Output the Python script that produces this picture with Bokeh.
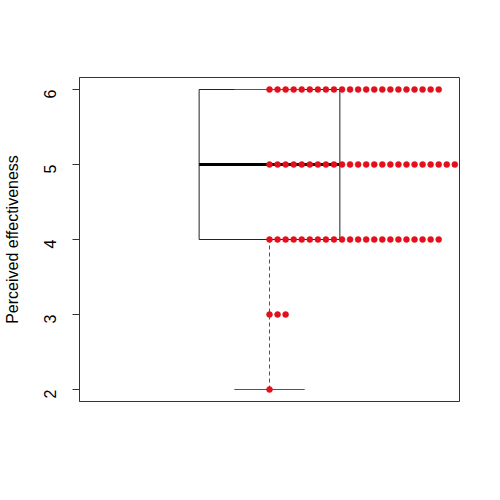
from bokeh.plotting import figure
from bokeh.models import Range1d, FixedTicker
from bokeh.embed import file_html
from bokeh.resources import INLINE
import numpy as np

# Data: perceived effectiveness ratings (value -> count)
ratings = [2, 3, 4, 5, 6]
counts = [1, 3, 22, 24, 22]
y_ticks = [2, 3, 4, 5, 6]
y_label = "Perceived effectiveness"

obs = np.repeat(ratings, counts).astype(float)
q1, med, q3 = np.percentile(obs, [25, 50, 75])
iqr = q3 - q1
lo_whisk = obs[obs >= q1 - 1.5 * iqr].min()
hi_whisk = obs[obs <= q3 + 1.5 * iqr].max()

W, H = 484, 484
p = figure(width=W, height=H, output_backend="svg", toolbar_location=None,
           x_range=Range1d(0.46, 1.54), y_range=Range1d(1.84, 6.16),
           min_border_left=78, min_border_right=25, min_border_top=77, min_border_bottom=83)
p.xaxis.visible = False
p.grid.visible = False
p.outline_line_color = "#333333"
p.outline_line_width = 1
p.background_fill_color = "white"
p.border_fill_color = "white"

ax = p.yaxis[0]
ax.ticker = FixedTicker(ticks=y_ticks)
ax.major_label_orientation = np.pi / 2
ax.major_tick_out = 7
ax.major_tick_in = 0
ax.minor_tick_out = 0
ax.minor_tick_in = 0
ax.major_label_text_font = "Liberation Sans"
ax.major_label_text_font_size = "12pt"
ax.major_label_text_color = "black"
ax.major_label_standoff = 23
ax.axis_line_color = "#333333"
ax.major_tick_line_color = "#333333"
ax.axis_label = y_label
ax.axis_label_text_font = "Liberation Sans"
ax.axis_label_text_font_size = "12pt"
ax.axis_label_text_font_style = "normal"
ax.axis_label_text_color = "black"
ax.axis_label_standoff = 14

cx = 1.0
bw = 0.2
cap = 0.1
# box
p.quad(left=[cx - bw], right=[cx + bw], bottom=[q1], top=[q3],
       fill_color=None, line_color="#222222", line_width=1)
# median
p.segment(x0=[cx - bw], x1=[cx + bw], y0=[med], y1=[med], line_color="black", line_width=3)
# whiskers
p.segment(x0=[cx, cx], x1=[cx, cx], y0=[lo_whisk, q3], y1=[q1, hi_whisk],
          line_color="#555555", line_width=1, line_dash="4 3")
# caps
p.segment(x0=[cx - cap, cx - cap], x1=[cx + cap, cx + cap], y0=[lo_whisk, hi_whisk],
          y1=[lo_whisk, hi_whisk], line_color="#555555", line_width=1)

# stacked points
step = 0.0229
xs, ys = [], []
for r, c in zip(ratings, counts):
    for i in range(c):
        xs.append(cx + i * step)
        ys.append(r)
p.scatter(x=xs, y=ys, size=6, fill_color="#e3101c", line_color="#e3101c", line_width=0.5)

open("out.html", "w").write(file_html(p, INLINE))
